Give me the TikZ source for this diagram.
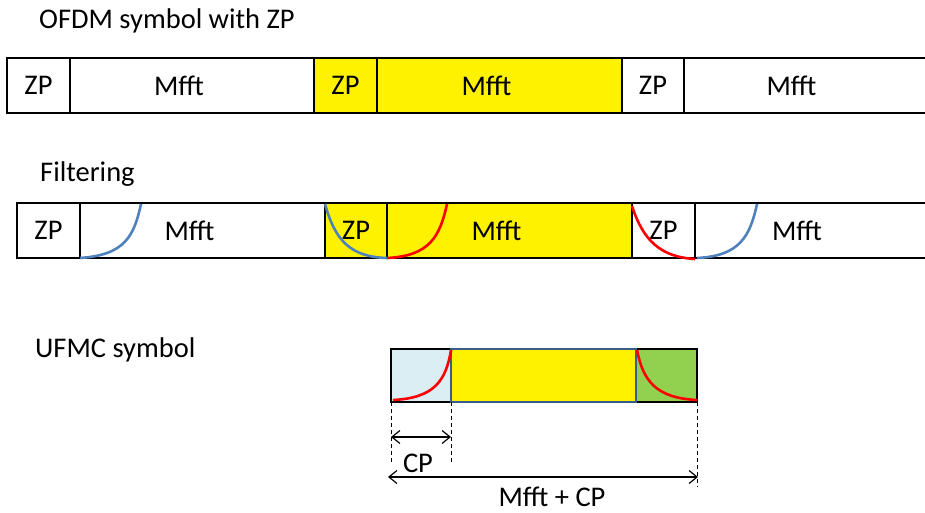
\documentclass[tikz,border=0pt]{standalone}
\usepackage{fontspec}
\setmainfont{Carlito}
\usepackage{xcolor}
\usetikzlibrary{arrows.meta, positioning, calc}
\definecolor{curveblue}{RGB}{79,129,189}
\definecolor{cpblue}{RGB}{218,238,243}
\definecolor{tailgreen}{RGB}{146,208,80}
\definecolor{coreedge}{RGB}{56,93,138}
\newcommand{\diagfont}{\fontsize{28.5}{34}\selectfont}
\tikzset{
  cell/.style={
    rectangle, draw, line width=2.6pt, inner sep=0pt, outer sep=0pt,
    minimum height=55pt, font=\diagfont
  },
  mfftcell/.style={
    cell, label={[inner sep=0pt, xshift=-13pt, font=\diagfont]center:Mfft}
  },
  ucell/.style={
    rectangle, draw, line width=2.6pt, inner sep=0pt, outer sep=0pt,
    minimum height=53pt
  },
  caption/.style={anchor=base west, inner sep=0pt, font=\diagfont},
  dimlabel/.style={anchor=base, inner sep=0pt, font=\diagfont},
  openedge/.style={line width=2.6pt},
  bluecurve/.style={curveblue, line width=2.6pt},
  redcurve/.style={red, line width=2.6pt},
  guide/.style={dashed, dash pattern=on 4pt off 3pt, line width=0.8pt},
  dimarrow/.style={line width=1.2pt, {Straight Barb[length=8pt,width=13pt]}-{Straight Barb[length=8pt,width=13pt]}}
}
\begin{document}
\begin{tikzpicture}[x=1pt, y=-1pt]
  \useasboundingbox (0,0) rectangle (925,513);

  % OFDM symbol with ZP
  \node[caption] (ttlOfdm) at (39,29) {OFDM symbol with ZP};
  \node[cell, anchor=north west, minimum width=63pt] (zpA) at (7,58) {ZP};
  \node[mfftcell, minimum width=244pt, right=0pt of zpA] (mfA) {};
  \node[cell, fill=yellow, minimum width=63pt, right=0pt of mfA] (zpB) {ZP};
  \node[mfftcell, fill=yellow, minimum width=245pt, right=0pt of zpB] (mfB) {};
  \node[cell, minimum width=62pt, right=0pt of mfB] (zpC) {ZP};
  \node[mfftcell, draw=none, minimum width=241pt, right=0pt of zpC] (mfC) {};
  \draw[openedge] (mfC.north west) -- (mfC.north east) (mfC.south west) -- (mfC.south east);

  % Filtering
  \node[caption] (ttlFilt) at (40,182) {Filtering};
  \node[cell, anchor=north west, minimum width=63pt] (fzpA) at (17,203) {ZP};
  \node[mfftcell, minimum width=245pt, right=0pt of fzpA] (fmfA) {};
  \node[cell, fill=yellow, minimum width=62pt, right=0pt of fmfA] (fzpB) {ZP};
  \node[mfftcell, fill=yellow, minimum width=245pt, right=0pt of fzpB] (fmfB) {};
  \node[cell, minimum width=63pt, right=0pt of fmfB] (fzpC) {ZP};
  \node[mfftcell, draw=none, minimum width=230pt, right=0pt of fzpC] (fmfC) {};
  \draw[openedge] (fmfC.north west) -- (fmfC.north east) (fmfC.south west) -- (fmfC.south east);
  \draw[bluecurve] (80,258) .. controls (125,255) and (134,236) .. (141,204);
  \draw[bluecurve] (325,204) .. controls (335,240) and (350,257) .. (387,258);
  \draw[redcurve] (387,258) .. controls (430,256) and (440,236) .. (447,204);
  \draw[redcurve] (632,206) .. controls (643,240) and (660,257) .. (695,259);
  \draw[bluecurve] (697,258) .. controls (740,256) and (750,236) .. (757,204);

  % UFMC symbol
  \node[caption] (ttlUfmc) at (35,357) {UFMC symbol};
  \node[ucell, fill=cpblue, anchor=north west, minimum width=60pt] (ucp) at (391,349) {};
  \node[ucell, fill=tailgreen, anchor=north east, minimum width=61pt] (utail) at (697,349) {};
  \node[ucell, draw=coreedge, fill=yellow, minimum width=185pt, right=0pt of ucp] (ucore) {};
  \draw[redcurve] (393,400) .. controls (435,398) and (446,380) .. (451,350);
  \draw[redcurve] (637,350) .. controls (643,380) and (655,398) .. (697,400);

  \draw[guide] (ucp.south west) -- ++(0,61);
  \draw[guide] (ucp.south east) -- ++(0,62);
  \draw[guide] (utail.south east) -- ++(0,85);
  \draw[dimarrow] ([yshift=-35pt]ucp.south west) -- ([yshift=-35pt]ucp.south east);
  \draw[dimarrow] ([shift={(-3pt,-75pt)}]ucp.south west) -- ([shift={(1pt,-75pt)}]utail.south east);
  \node[dimlabel] (lblCp) at (418,472) {CP};
  \node[dimlabel] (lblTotal) at (552,506) {Mfft + CP};
\end{tikzpicture}
\end{document}
